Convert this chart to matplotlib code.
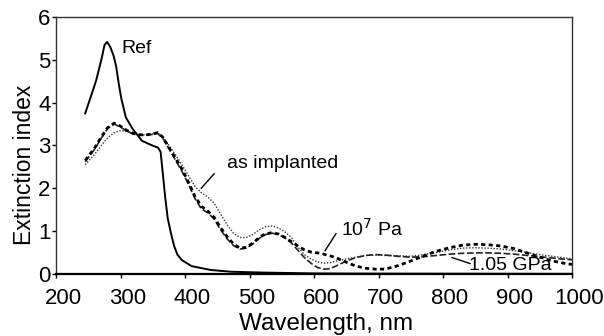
import matplotlib
matplotlib.use("Agg")
import matplotlib.pyplot as plt
import matplotlib.transforms as mtransforms

plt.rcParams['font.family'] = ['Liberation Sans', 'DejaVu Sans']

# Reference curve (solid)
wl_ref = [245, 255, 262, 270, 275, 279, 284, 289, 293, 297, 301, 308, 318, 333, 349,
          358, 362, 365, 369, 373, 378, 383, 388, 395, 410, 440, 470, 520, 600, 700, 1000]
k_ref = [3.75, 4.2, 4.52, 5.0, 5.35, 5.42, 5.3, 5.1, 4.85, 4.45, 4.1, 3.66, 3.4, 3.11, 3.0,
         2.95, 2.85, 2.4, 1.8, 1.3, 0.95, 0.65, 0.45, 0.32, 0.18, 0.09, 0.05, 0.03, 0.01, 0.005, 0.0]

wl = [245, 260, 270, 280, 290, 300, 310, 320, 330, 340, 350, 357, 365, 375, 385, 395,
      405, 415, 425, 435, 445, 455, 465, 475, 485, 495, 505, 515, 525, 535, 545, 555,
      565, 575, 585, 595, 605, 615, 625, 635, 650, 665, 680, 695, 710, 730, 750, 770,
      790, 810, 830, 850, 870, 890, 910, 930, 950, 970, 990, 1000]

k_1e7 = [2.65, 2.95, 3.2, 3.42, 3.52, 3.45, 3.35, 3.28, 3.25, 3.25, 3.27, 3.3, 3.2, 2.95, 2.7, 2.45,
         2.15, 1.82, 1.58, 1.47, 1.32, 1.08, 0.87, 0.7, 0.6, 0.62, 0.72, 0.85, 0.94, 0.96, 0.93, 0.85,
         0.75, 0.65, 0.56, 0.51, 0.49, 0.46, 0.42, 0.37, 0.27, 0.18, 0.13, 0.11, 0.11, 0.19, 0.3, 0.42,
         0.53, 0.61, 0.67, 0.69, 0.68, 0.65, 0.59, 0.49, 0.39, 0.3, 0.24, 0.22]

k_impl = [2.55, 2.8, 3.0, 3.18, 3.3, 3.35, 3.33, 3.28, 3.25, 3.25, 3.27, 3.3, 3.22, 3.0, 2.78, 2.55,
          2.3, 2.05, 1.9, 1.8, 1.65, 1.4, 1.15, 0.95, 0.85, 0.85, 0.92, 1.03, 1.1, 1.12, 1.07, 0.98,
          0.85, 0.62, 0.45, 0.35, 0.28, 0.25, 0.26, 0.3, 0.35, 0.39, 0.43, 0.44, 0.43, 0.42, 0.41, 0.45,
          0.5, 0.56, 0.6, 0.61, 0.6, 0.58, 0.54, 0.5, 0.45, 0.41, 0.37, 0.35]

k_gpa = [2.62, 2.92, 3.17, 3.4, 3.5, 3.43, 3.33, 3.27, 3.24, 3.24, 3.26, 3.28, 3.18, 2.92, 2.66, 2.4,
         2.1, 1.77, 1.52, 1.43, 1.28, 1.03, 0.82, 0.66, 0.58, 0.6, 0.7, 0.83, 0.92, 0.95, 0.92, 0.84,
         0.72, 0.55, 0.38, 0.25, 0.15, 0.11, 0.12, 0.19, 0.3, 0.38, 0.43, 0.45, 0.44, 0.41, 0.39, 0.4,
         0.43, 0.46, 0.48, 0.49, 0.49, 0.48, 0.46, 0.43, 0.4, 0.37, 0.34, 0.33]

xticks = [200, 300, 400, 500, 600, 700, 800, 900, 1000]
xticklabels = ['200', '300', '400', '500', '600', '700', '800', '900', '1000']
yticks = [0, 1, 2, 3, 4, 5, 6]

fig = plt.figure(figsize=(6.04, 3.36), dpi=100)
ax = fig.add_axes([0.093, 0.185, 0.854, 0.764])

ax.plot(wl_ref, k_ref, color='black', lw=1.4, ls='-')
ax.plot(wl, k_impl, color='#333333', lw=1.0, ls=(0, (1, 1.2)))
ax.plot(wl, k_gpa, color='#222222', lw=1.2, ls=(0, (4, 1.5)))
ax.plot(wl, k_1e7, color='black', lw=2.0, ls=(0, (1.5, 1.2)))

ax.set_xlim(200, 1000)
ax.set_ylim(0, 6)
ax.set_xticks(xticks)
ax.set_yticks(yticks)
ax.tick_params(axis='both', labelsize=16, length=3, width=1)
ax.tick_params(axis='y', pad=1)
ax.tick_params(axis='x', labelbottom=False)
for s in ax.spines.values():
    s.set_linewidth(1.0)
    s.set_color('#333333')
ax.spines['bottom'].set_linewidth(1.6)
ax.spines['bottom'].set_color('black')

# x tick labels, slightly offset to the right as in the reference
shift = mtransforms.ScaledTranslation(5 / 72, -10 / 72, fig.dpi_scale_trans)
for xv, lab in zip(xticks, xticklabels):
    ax.text(xv, 0, lab, transform=ax.get_xaxis_transform() + shift,
            fontsize=16, ha='center', va='top', clip_on=False)

ax.set_xlabel('Wavelength, nm', fontsize=17.5, va='bottom')
ax.xaxis.set_label_coords(0.523, -0.24)
ax.set_ylabel('Extinction index', fontsize=16.5)
ax.yaxis.set_label_coords(-0.04, 0.424)

ax.text(301, 5.27, 'Ref', fontsize=14, va='center', ha='left')
ax.text(465, 2.58, 'as implanted', fontsize=14, va='center', ha='left')
ax.plot([445, 425], [2.34, 2.0], color='black', lw=1)
ax.text(642, 1.05, '10$^7$ Pa', fontsize=14, va='center', ha='left')
ax.plot([634, 617], [0.94, 0.54], color='black', lw=1)
ax.text(840, 0.19, '1.05 GPa', fontsize=14, va='center', ha='left')
ax.plot([842, 814], [0.24, 0.38], color='black', lw=1)

fig.savefig('out.png', dpi=100)
